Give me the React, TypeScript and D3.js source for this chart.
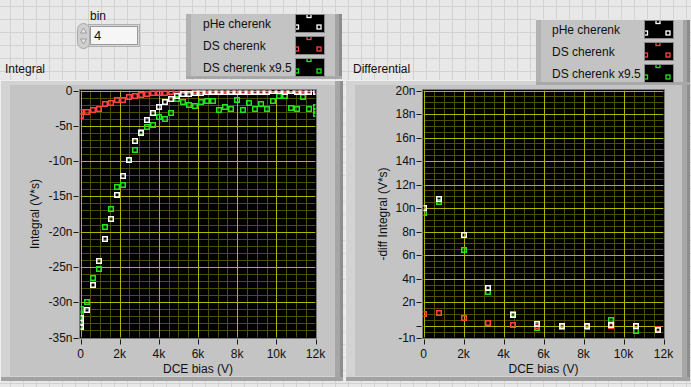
import * as d3 from "d3";

// ---- data (values in nV*s, bias in V) ----
const intBias = [
  0, 308, 615, 923, 1231, 1538, 1846, 2154, 2462, 2769, 3077, 3385, 3692, 4000,
  4308, 4615, 4923, 5231, 5538, 5846, 6154, 6462, 6769, 7077, 7385, 7692, 8000,
  8308, 8615, 8923, 9231, 9538, 9846, 10154, 10462, 10769, 11077, 11385, 11692,
  12000,
];
const intPHe = [
  -32.3, -31.15, -27.5, -24.2, -21.1, -18.2, -14.8, -12.1, -9.9, -7.2, -6.0,
  -4.2, -3.2, -2.35, -1.65, -1.2, -0.8, -0.5, -0.5, -0.37, -0.37, -0.23, -0.23,
  -0.23, -0.23, -0.23, -0.23, -0.23, -0.23, -0.23, -0.23, -0.23, -0.1, -0.1,
  -0.23, -0.1, -0.23, -0.23, -0.23, -0.23,
];
const intDS = [
  -3.1, -3.05, -2.8, -2.65, -1.95, -1.8, -1.37, -1.37, -0.94, -0.8, -0.65, -0.5,
  -0.37, -0.37, -0.3, -0.2, -0.1, -0.1, -0.05, -0.05, -0.1, 0.05, -0.1, 0.0,
  0.05, -0.1, 0.0, -0.1, 0.05, -0.1, -0.05, -0.1, 0.0, -0.1, 0.05, -0.05, -0.1,
  0.05, -0.1, -0.1,
];
const intDS95 = [
  -31.0, -30.0, -26.6, -25.3, -19.4, -16.8, -13.7, -13.4, -9.9, -8.45, -5.9,
  -5.2, -4.9, -3.8, -4.05, -3.2, -1.2, -1.65, -2.07, -2.2, -1.65, -1.5, -1.5,
  -2.8, -2.35, -2.64, -1.37, -2.8, -1.8, -2.64, -1.93, -2.64, -1.5, -0.8, -0.8,
  -2.5, -2.64, -0.94, -2.64, -2.3,
];
// repeated readings stacked at the ends of the bias range
const pheAtZero = [-32.9, -33.5];
const dsAtZero = [-3.6];
const ds95AtZero = [-31.8, -32.6, -33.4];
const ds95AtMax = [-2.9, -3.4];

const diffBias = [0, 760, 2000, 3230, 4450, 5690, 6920, 8150, 9380, 10610, 11730];
const diffPHe = [10.0, 10.78, 7.7, 3.24, 0.88, 0.17, 0.0, 0.0, 0.08, 0.0, -0.34];
const diffDS = [1.02, 1.11, 0.7, 0.26, 0.08, 0.0, 0.0, -0.02, 0.02, -0.05, -0.3];
const diffDS95 = [9.6, 10.55, 6.48, 2.84, 0.96, -0.17, -0.08, -0.08, 0.45, -0.43, -0.34];

const seriesNames = ["pHe cherenk", "DS cherenk", "DS cherenk x9.5"];
const seriesColors = ["#ffffff", "#ff4242", "#20e620"];

const xTicks = [0, 2000, 4000, 6000, 8000, 10000, 12000];
const intTicks = [0, -5, -10, -15, -20, -25, -30, -35];
const diffTicks = [20, 18, 16, 14, 12, 10, 8, 6, 4, 2, 0, -1];

const FONT = "'Liberation Sans', Arial, sans-serif";
const MAJOR = "#b4b400";
const MINOR = "#4f4f00";

type Pt = [number, number];

function zip(xs: number[], ys: number[]): Pt[] {
  return ys.map((v, i) => [xs[i], v] as Pt);
}

function Frame({ x, y, w, h }: { x: number; y: number; w: number; h: number }) {
  return (
    <g>
      <rect x={x} y={y} width={w} height={h} fill="#d3d3d3" />
      <rect x={x + 10} y={y + 5} width={w - 18} height={h - 10} fill="#c4c4c4" />
      <rect x={x + w - 8} y={y} width={8} height={h} fill="#a6a6a6" />
      <rect x={x + w - 3} y={y} width={3} height={h} fill="#8e8e8e" />
      <rect x={x} y={y + h - 4} width={w} height={4} fill="#a2a2a2" />
      <line x1={x} x2={x + w} y1={y + 0.5} y2={y + 0.5} stroke="#efefef" />
      <line x1={x + 0.5} x2={x + 0.5} y1={y} y2={y + h} stroke="#efefef" />
    </g>
  );
}

function Graph({
  id,
  left,
  right,
  top,
  bottom,
  yDomain,
  yTicks,
  yMajor,
  yMinorStep,
  yLabel,
  yTitle,
  titleX,
  series,
}: {
  id: string;
  left: number;
  right: number;
  top: number;
  bottom: number;
  yDomain: [number, number];
  yTicks: number[];
  yMajor: number[];
  yMinorStep: number;
  yLabel: (d: number) => string;
  yTitle: string;
  titleX: number;
  series: { pts: Pt[]; color: string }[];
}) {
  const x = d3.scaleLinear().domain([0, 12000]).range([left, right]);
  const y = d3.scaleLinear().domain(yDomain).range([bottom, top]);
  const xMinor = d3.range(0, 12001, 500);
  const yMinor = d3.range(yDomain[0], yDomain[1] + 1e-9, yMinorStep);
  const s = 4.5;
  return (
    <g>
      <defs>
        <clipPath id={id}>
          <rect x={left} y={top} width={right - left} height={bottom - top} />
        </clipPath>
      </defs>
      <rect x={left - 1} y={top - 1} width={right - left + 2} height={bottom - top + 2} fill="#000" stroke="#7a7a7a" />
      <g clipPath={`url(#${id})`}>
        {xMinor.map((v) => (
          <line key={"xm" + v} x1={Math.round(x(v)) + 0.5} x2={Math.round(x(v)) + 0.5} y1={top} y2={bottom} stroke={MINOR} />
        ))}
        {yMinor.map((v) => (
          <line key={"ym" + v} y1={Math.round(y(v)) + 0.5} y2={Math.round(y(v)) + 0.5} x1={left} x2={right} stroke={MINOR} />
        ))}
        {xTicks.map((v) => (
          <line key={"xM" + v} x1={Math.round(x(v)) + 0.5} x2={Math.round(x(v)) + 0.5} y1={top} y2={bottom} stroke={MAJOR} />
        ))}
        {yMajor.map((v) => (
          <line key={"yM" + v} y1={Math.round(y(v)) + 0.5} y2={Math.round(y(v)) + 0.5} x1={left} x2={right} stroke={MAJOR} />
        ))}
        {series.map((sr, k) =>
          sr.pts.map((p, i) => (
            <rect
              key={k + "-" + i}
              x={Math.round(x(p[0])) - s / 2}
              y={Math.round(y(p[1])) - s / 2}
              width={s}
              height={s}
              fill="none"
              stroke={sr.color}
              strokeWidth={1.5}
            />
          ))
        )}
      </g>
      {/* y axis */}
      {yTicks.map((v) => (
        <g key={"yt" + v}>
          <line x1={left - 7} x2={left - 2} y1={Math.round(y(v)) + 0.5} y2={Math.round(y(v)) + 0.5} stroke="#1a1a1a" />
          <text x={left - 8} y={y(v) + 4} textAnchor="end" fontSize={12} fontFamily={FONT} fill="#111">
            {yLabel(v)}
          </text>
        </g>
      ))}
      {/* x axis */}
      {xTicks.map((v) => (
        <g key={"xt" + v}>
          <line x1={Math.round(x(v)) + 0.5} x2={Math.round(x(v)) + 0.5} y1={bottom + 2} y2={bottom + 7} stroke="#1a1a1a" />
          <text x={x(v)} y={bottom + 20} textAnchor="middle" fontSize={12} fontFamily={FONT} fill="#111">
            {v === 0 ? "0" : `${v / 1000}k`}
          </text>
        </g>
      ))}
      <text x={(left + right) / 2} y={bottom + 35} textAnchor="middle" fontSize={12} fontFamily={FONT} fill="#111">
        DCE bias (V)
      </text>
      <text
        transform={`translate(${titleX},${(top + bottom) / 2}) rotate(-90)`}
        textAnchor="middle"
        fontSize={12}
        fontFamily={FONT}
        fill="#111"
      >
        {yTitle}
      </text>
    </g>
  );
}

function Legend({ x, y, w, h, textX, glyphX, rows }: { x: number; y: number; w: number; h: number; textX: number; glyphX: number; rows: number[] }) {
  return (
    <g>
      <rect x={x} y={y} width={w} height={h} fill="#c3c3c3" />
      <rect x={x} y={y} width={5} height={h} fill="#b2b2b2" />
      <rect x={x + w - 7} y={y} width={7} height={h} fill="#a4a4a4" />
      <rect x={x + w - 3} y={y} width={3} height={h} fill="#8c8c8c" />
      <rect x={x} y={y + h - 3} width={w} height={3} fill="#a8a8a8" />
      <line x1={x} x2={x + w} y1={y + 0.5} y2={y + 0.5} stroke="#e6e6e6" />
      {seriesNames.map((name, i) => {
        const gy = rows[i];
        const cid = `lg${x}-${i}`;
        return (
          <g key={name}>
            <text x={textX} y={gy + 13} fontSize={12} fontFamily={FONT} fill="#111">
              {name}
            </text>
            <rect x={glyphX - 1} y={gy - 1} width={30} height={19} fill="#e4e4e4" />
            <rect x={glyphX - 0.5} y={gy - 0.5} width={29} height={18} fill="#000" stroke="#8a8a8a" />
            <defs>
              <clipPath id={cid}>
                <rect x={glyphX} y={gy} width={28} height={17} />
              </clipPath>
            </defs>
            <g clipPath={`url(#${cid})`} fill="none" stroke={seriesColors[i]} strokeWidth={1.3}>
              <rect x={glyphX + 11} y={gy - 1.5} width={4} height={4} />
              <rect x={glyphX - 1.5} y={gy + 10} width={4} height={4} />
              <rect x={glyphX + 21} y={gy + 10} width={4} height={4} />
            </g>
          </g>
        );
      })}
    </g>
  );
}

export default function App() {
  const width = 691;
  const height = 387;

  const intSeries = [
    { pts: [...zip(intBias, intDS95), ...ds95AtZero.map((v) => [0, v] as Pt), ...ds95AtMax.map((v) => [12000, v] as Pt)], color: seriesColors[2] },
    { pts: [...zip(intBias, intDS), ...dsAtZero.map((v) => [0, v] as Pt)], color: seriesColors[1] },
    { pts: [...zip(intBias, intPHe), ...pheAtZero.map((v) => [0, v] as Pt)], color: seriesColors[0] },
  ];
  const diffSeries = [
    { pts: zip(diffBias, diffDS95), color: seriesColors[2] },
    { pts: zip(diffBias, diffDS), color: seriesColors[1] },
    { pts: zip(diffBias, diffPHe), color: seriesColors[0] },
  ];

  const gridX = d3.range(10, width, 13);
  const gridY = d3.range(6, height, 13);

  return (
    <>
      <style>{`body{margin:0}`}</style>
      <svg width={width} height={height} style={{ display: "block" }}>
        {/* panel background grid */}
        <rect width={width} height={height} fill="#e8e8e8" />
        {gridX.map((v) => (
          <line key={"gx" + v} x1={v + 0.5} x2={v + 0.5} y1={0} y2={height} stroke="#d2d2d2" />
        ))}
        {gridY.map((v) => (
          <line key={"gy" + v} y1={v + 0.5} y2={v + 0.5} x1={0} x2={width} stroke="#d2d2d2" />
        ))}

        {/* bin control */}
        <text x={90} y={20} fontSize={12} fontFamily={FONT} fill="#111">bin</text>
        <rect x={88.5} y={24.5} width={51} height={22} fill="#d6d6d6" stroke="#b0b0b0" />
        <rect x={90.5} y={26.5} width={47} height={18} fill="#f6f6f6" stroke="#9a9a9a" />
        <text x={94} y={40} fontSize={13} fontFamily={FONT} fill="#111">4</text>
        <rect x={77.5} y={23.5} width={12} height={25} rx={6} fill="#cfcfcf" stroke="#a8a8a8" />
        <path d="M80.5,33 L83.5,28 L86.5,33 Z" fill="#e8e8e8" stroke="#8c8c8c" strokeWidth={0.8} />
        <path d="M80.5,39 L83.5,44 L86.5,39 Z" fill="#e8e8e8" stroke="#8c8c8c" strokeWidth={0.8} />

        {/* graph titles */}
        <text x={5} y={73} fontSize={12} fontFamily={FONT} fill="#111">Integral</text>
        <text x={353} y={73} fontSize={12} fontFamily={FONT} fill="#111">Differential</text>

        <Frame x={0} y={80} w={343} h={301} />
        <Frame x={345} y={80} w={345} h={301} />

        <Graph
          id="clipInt"
          left={80.5}
          right={315.5}
          top={90.5}
          bottom={337.5}
          yDomain={[-35, 0]}
          yTicks={intTicks}
          yMajor={intTicks}
          yMinorStep={1}
          yLabel={(d) => (d === 0 ? "0" : `${d}n`)}
          yTitle="Integral (V*s)"
          titleX={39}
          series={intSeries}
        />
        <Graph
          id="clipDiff"
          left={423.5}
          right={663.5}
          top={90.5}
          bottom={337.5}
          yDomain={[-1, 20]}
          yTicks={diffTicks}
          yMajor={[0, 2, 4, 6, 8, 10, 12, 14, 16, 18, 20]}
          yMinorStep={0.5}
          yLabel={(d) => (d === 0 ? "" : `${d}n`)}
          yTitle="-diff Integral (V*s)"
          titleX={387}
          series={diffSeries}
        />

        <Legend x={186} y={13} w={156} h={66} textX={203} glyphX={296} rows={[15, 37, 59]} />
        <Legend x={536} y={19} w={154} h={66} textX={552} glyphX={645} rows={[21, 43, 65]} />
      </svg>
    </>
  );
}
